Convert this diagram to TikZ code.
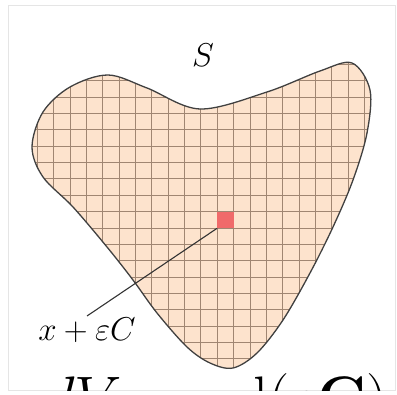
\RequirePackage{fix-cm}
\documentclass[tikz,border=0pt]{standalone}
\usetikzlibrary{positioning}
\definecolor{peach}{HTML}{FDE3CD}
\definecolor{gridbrown}{HTML}{A08672}
\definecolor{cellred}{HTML}{F06A6A}
\newcommand{\blobpath}{plot[smooth cycle, tension=0.55] coordinates {
  (32,147) (43,112) (70,87) (108,75) (147,88) (200,109) (267,92) (320,71)
  (352,63) (370,90) (367,133) (353,180) (333,227) (310,273) (283,320)
  (257,353) (233,368) (210,363) (187,347) (157,313) (133,280) (107,247)
  (73,207) (43,177)}}

\begin{document}
\begin{tikzpicture}[
  x=1pt, y=-1pt,
  outline/.style={draw=black!75, line width=1.3pt},
  gridline/.style={draw=gridbrown, line width=1pt},
  cell/.style={fill=cellred, minimum size=16.35pt, inner sep=0pt},
  lbl/.style={font=\fontsize{33}{38}\selectfont, inner sep=2pt},
  leader/.style={draw=black!80, line width=1.1pt}
]
  \useasboundingbox (0,0) rectangle (397,395);
  \draw[gray!20, line width=1pt] (8,6) rectangle (395,391);
  % region S with its grid
  \fill[peach] \blobpath;
  \begin{scope}
    \clip \blobpath;
    \foreach \i in {-11,...,9}
      \draw[gridline] (217.3+16.35*\i,40) -- (217.3+16.35*\i,385);
    \foreach \j in {-9,...,10}
      \draw[gridline] (20,211.7+16.35*\j) -- (380,211.7+16.35*\j);
  \end{scope}
  \node[cell] (cell) at (225.5,219.9) {};
  \draw[outline] \blobpath;
  \node[lbl] (setS) at (203,55) {$S$};
  \node[lbl, anchor=north] (eps) at (87,316) {$x+\varepsilon C$};
  \draw[leader] (cell.south west) -- (eps.north);
  % caption cut by the frame
  \begin{scope}
    \clip (8,6) rectangle (395,391);
    \node[anchor=base west, inner sep=0pt, font=\fontsize{60}{66}\selectfont] (vol) at (44,419)
      {$dV = \mathrm{vol}(\varepsilon\mathbf{C})$};
  \end{scope}
\end{tikzpicture}
\end{document}
